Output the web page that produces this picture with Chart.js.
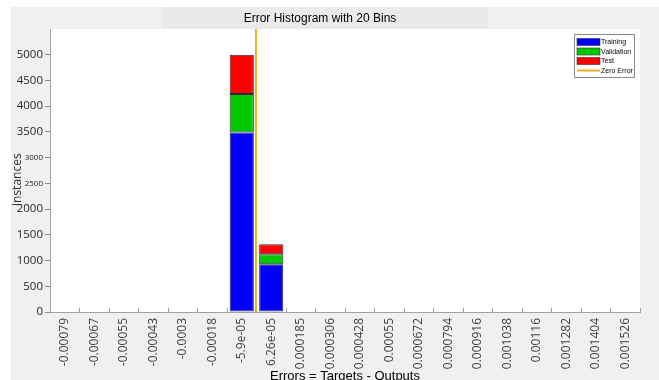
<!DOCTYPE html>
<html>
<head>
<meta charset="utf-8">
<title>Error Histogram with 20 Bins</title>
<script src="https://cdn.jsdelivr.net/npm/chart.js@4/dist/chart.umd.min.js"></script>
<style>
    html, body { margin: 0; padding: 0; background: #fff; }
</style>
</head>
<body>
<canvas id="grafico" width="659" height="380"></canvas>
<script>
// centros de los 20 bins (etiquetas del eje x)
const centros = ['-0.00079', '-0.00067', '-0.00055', '-0.00043', '-0.0003', '-0.00018', '-5.9e-05', '6.26e-05',
    '0.000185', '0.000306', '0.000428', '0.00055', '0.000672', '0.000794', '0.000916', '0.001038',
    '0.00116', '0.001282', '0.001404', '0.001526'];

// instancias por bin para cada conjunto
const entrenamiento = [0, 0, 0, 0, 0, 0, 3490, 928, 0, 0, 0, 0, 0, 0, 0, 0, 0, 0, 0, 0];
const validacion = [0, 0, 0, 0, 0, 0, 745, 195, 0, 0, 0, 0, 0, 0, 0, 0, 0, 0, 0, 0];
const prueba = [0, 0, 0, 0, 0, 0, 765, 194, 0, 0, 0, 0, 0, 0, 0, 0, 0, 0, 0, 0];

const errorCero = 0;
const maxY = 5500;
const pasoY = 500;

// posicion del error cero en unidades de bin (indice fraccionario del eje de categorias)
const primero = Number(centros[0]);
const ultimo = Number(centros[centros.length - 1]);
const anchoBin = (ultimo - primero) / (centros.length - 1);
const indiceCero = (errorCero - primero) / anchoBin;

// fondo gris de la figura y area blanca del grafico
const fondo = {
    id: 'fondo',
    beforeDraw(chart) {
        const ctx = chart.ctx;
        const a = chart.chartArea;
        ctx.save();
        ctx.fillStyle = '#ffffff';
        ctx.fillRect(0, 0, chart.width, chart.height);
        ctx.fillStyle = '#f0f0f0';
        ctx.fillRect(11, 7, chart.width - 11, chart.height - 7);
        ctx.fillStyle = '#eaeaea';
        ctx.fillRect(162, 7, 326, a.top - 7);
        ctx.fillStyle = '#ffffff';
        ctx.fillRect(a.left, a.top, a.right - a.left, a.bottom - a.top);
        ctx.restore();
    }
};

// leyenda pequeña dentro del area del grafico, arriba a la derecha
const leyenda = {
    id: 'leyenda',
    afterDraw(chart) {
        const ctx = chart.ctx;
        const x0 = 574, y0 = 34, ancho = 60, alto = 43;
        ctx.save();
        ctx.fillStyle = '#ffffff';
        ctx.fillRect(x0, y0, ancho, alto);
        ctx.strokeStyle = '#8a8a8a';
        ctx.lineWidth = 1;
        ctx.strokeRect(x0 + 0.5, y0 + 0.5, ancho, alto);
        ctx.font = '7px "Liberation Sans"';
        ctx.textBaseline = 'middle';
        chart.data.datasets.forEach((ds, i) => {
            const y = y0 + 8 + i * 9.5;
            if (ds.type === 'line') {
                ctx.strokeStyle = ds.borderColor;
                ctx.lineWidth = 2;
                ctx.beginPath();
                ctx.moveTo(x0 + 3, y);
                ctx.lineTo(x0 + 26, y);
                ctx.stroke();
            } else {
                ctx.fillStyle = ds.backgroundColor;
                ctx.fillRect(x0 + 3, y - 3.5, 23, 7);
                ctx.strokeStyle = '#333333';
                ctx.lineWidth = 0.6;
                ctx.strokeRect(x0 + 3, y - 3.5, 23, 7);
            }
            ctx.fillStyle = '#000000';
            ctx.fillText(ds.label, x0 + 27, y + 0.5);
        });
        ctx.restore();
    }
};

const barra = {
    borderWidth: 1,
    borderColor: '#2b2b3b',
    borderSkipped: false,
    grouped: false,
    barPercentage: 0.82,
    categoryPercentage: 1
};

const ctx = document.getElementById('grafico').getContext('2d');
const chart = new Chart(ctx, {
    type: 'bar',
    data: {
        labels: centros,
        datasets: [
            Object.assign({ label: 'Training', data: entrenamiento, backgroundColor: '#0000ff' }, barra),
            Object.assign({ label: 'Validation', data: validacion, backgroundColor: '#00c800' }, barra),
            Object.assign({ label: 'Test', data: prueba, backgroundColor: '#ff0000' }, barra),
            {
                type: 'line',
                label: 'Zero Error',
                parsing: false,
                data: [{ x: indiceCero, y: 0 }, { x: indiceCero, y: maxY }],
                borderColor: '#edb120',
                borderWidth: 2,
                pointRadius: 0,
                stack: 'cero'
            }
        ]
    },
    options: {
        responsive: false,
        animation: false,
        layout: { padding: { left: 0, right: 19, top: 0, bottom: 0 } },
        plugins: {
            legend: { display: false },
            tooltip: { enabled: false },
            title: {
                display: true,
                text: 'Error Histogram with 20 Bins',
                color: '#000000',
                font: { family: 'Liberation Sans', size: 12, weight: 'normal' },
                padding: { top: 11, bottom: 3.6 }
            }
        },
        scales: {
            x: {
                type: 'category',
                stacked: true,
                offset: true,
                afterFit: s => { s.height = 68; },
                border: { display: true, color: '#a0a0a0' },
                grid: { display: true, drawOnChartArea: false, tickLength: -4, color: '#a0a0a0' },
                ticks: {
                    autoSkip: false,
                    minRotation: 90,
                    maxRotation: 90,
                    padding: 10,
                    color: '#404040',
                    font: { family: 'Open Sans', size: 12 }
                },
                title: {
                    display: true,
                    text: 'Errors = Targets - Outputs',
                    color: '#000000',
                    font: { family: 'Liberation Sans', size: 13 },
                    padding: { top: 0, bottom: -4 }
                }
            },
            y: {
                stacked: true,
                min: 0,
                max: maxY,
                afterFit: s => { s.width = 50; },
                border: { display: true, color: '#a0a0a0' },
                grid: {
                    display: true,
                    drawOnChartArea: false,
                    tickLength: 5,
                    tickColor: c => c.tick && c.tick.value === maxY ? 'rgba(0,0,0,0)' : '#8c8c8c'
                },
                ticks: {
                    stepSize: pasoY,
                    padding: 2,
                    color: '#262626',
                    callback: v => v === maxY ? '' : v,
                    // 3000 y 2500 quedan mas chicos, debajo del titulo del eje
                    font: c => ({
                        family: 'Open Sans',
                        size: c.tick && (c.tick.value === 3000 || c.tick.value === 2500) ? 8 : 11.5
                    })
                },
                title: {
                    display: true,
                    text: 'Instances      ',
                    color: '#333333',
                    font: { family: 'Open Sans', size: 12 },
                    padding: { top: 10.8, bottom: 0 }
                }
            }
        }
    },
    plugins: [fondo, leyenda]
});
</script>
</body>
</html>
